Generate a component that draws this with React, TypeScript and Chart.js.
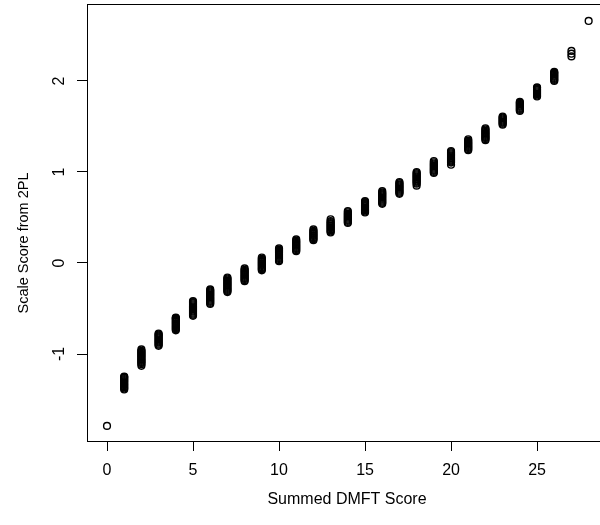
import React, { useEffect, useRef } from "react";
import { Chart, registerables } from "chart.js";

Chart.register(...registerables);

const dmftScores: number[] = [
  0, 1, 2, 3, 4, 5, 6, 7, 8, 9, 10, 11, 12, 13, 14, 15, 16, 17, 18, 19, 20, 21, 22, 23, 24, 25, 26, 27, 28,
];

const scaleScores: number[][] = [
  [-1.79],
  [-1.39, -1.379, -1.367, -1.356, -1.344, -1.333, -1.321, -1.309, -1.298, -1.286, -1.275, -1.263, -1.254, -1.247],
  [-1.13, -1.112, -1.1, -1.089, -1.077, -1.066, -1.054, -1.043, -1.031, -1.02, -1.008, -0.997, -0.985, -0.974, -0.965, -0.95],
  [-0.91, -0.898, -0.887, -0.875, -0.864, -0.852, -0.841, -0.829, -0.818, -0.806, -0.795, -0.784, -0.775],
  [-0.74, -0.729, -0.717, -0.706, -0.694, -0.683, -0.671, -0.66, -0.648, -0.637, -0.625, -0.614, -0.605, -0.6],
  [-0.58, -0.569, -0.557, -0.546, -0.534, -0.523, -0.511, -0.5, -0.488, -0.477, -0.465, -0.454, -0.442, -0.431, -0.42],
  [-0.45, -0.439, -0.427, -0.416, -0.404, -0.393, -0.381, -0.37, -0.358, -0.347, -0.335, -0.324, -0.312, -0.301, -0.29],
  [-0.32, -0.309, -0.297, -0.286, -0.274, -0.263, -0.251, -0.24, -0.228, -0.217, -0.205, -0.194, -0.182, -0.171, -0.16],
  [-0.2, -0.189, -0.177, -0.166, -0.154, -0.143, -0.131, -0.12, -0.108, -0.097, -0.085, -0.074, -0.06],
  [-0.08, -0.069, -0.057, -0.046, -0.034, -0.023, -0.011, 0.0, 0.012, 0.023, 0.035, 0.046, 0.06],
  [0.02, 0.031, 0.043, 0.054, 0.066, 0.077, 0.089, 0.1, 0.112, 0.123, 0.135, 0.146, 0.16],
  [0.13, 0.141, 0.153, 0.164, 0.176, 0.187, 0.199, 0.21, 0.222, 0.233, 0.245, 0.26],
  [0.25, 0.261, 0.273, 0.284, 0.296, 0.307, 0.319, 0.33, 0.342, 0.353, 0.37],
  [0.335, 0.346, 0.358, 0.369, 0.381, 0.392, 0.404, 0.415, 0.427, 0.438, 0.45, 0.461, 0.48],
  [0.44, 0.451, 0.463, 0.474, 0.486, 0.497, 0.509, 0.52, 0.532, 0.543, 0.557, 0.57],
  [0.555, 0.566, 0.578, 0.589, 0.601, 0.612, 0.624, 0.635, 0.647, 0.658, 0.669, 0.68],
  [0.65, 0.661, 0.673, 0.684, 0.696, 0.707, 0.719, 0.73, 0.742, 0.753, 0.765, 0.776, 0.79],
  [0.76, 0.771, 0.783, 0.794, 0.806, 0.817, 0.829, 0.84, 0.852, 0.863, 0.877, 0.89],
  [0.85, 0.872, 0.883, 0.895, 0.906, 0.918, 0.929, 0.941, 0.952, 0.964, 0.975, 0.988, 1.0],
  [0.99, 1.001, 1.013, 1.024, 1.036, 1.047, 1.059, 1.07, 1.082, 1.093, 1.107, 1.12],
  [1.08, 1.103, 1.114, 1.126, 1.137, 1.149, 1.16, 1.172, 1.183, 1.195, 1.206, 1.218, 1.23],
  [1.24, 1.251, 1.263, 1.274, 1.286, 1.297, 1.309, 1.32, 1.332, 1.345, 1.36],
  [1.35, 1.361, 1.373, 1.384, 1.396, 1.407, 1.419, 1.43, 1.442, 1.455, 1.468, 1.48],
  [1.52, 1.531, 1.543, 1.554, 1.566, 1.577, 1.589, 1.6, 1.61],
  [1.67, 1.681, 1.693, 1.704, 1.716, 1.727, 1.739, 1.75, 1.762, 1.77],
  [1.83, 1.841, 1.853, 1.864, 1.876, 1.887, 1.899, 1.91, 1.922, 1.93],
  [2.0, 2.011, 2.023, 2.034, 2.046, 2.057, 2.069, 2.08, 2.092, 2.1],
  [2.27, 2.3, 2.33],
  [2.66],
];

const xTicks: number[] = [0, 5, 10, 15, 20, 25];
const yTicks: number[] = [-1, 0, 1, 2];
const xTitle = "Summed DMFT Score";
const yTitle = "Scale Score from 2PL";

const FAMILY = '"Liberation Sans", Arial, Helvetica, sans-serif';
const FONT = "16px " + FAMILY;
const YTITLE_FONT = "14.5px " + FAMILY;

const textPlugin = {
  id: "rText",
  afterDraw(chart: any) {
    const { ctx, chartArea, scales } = chart;
    const xs = scales.x;
    const ys = scales.y;
    ctx.save();
    ctx.strokeStyle = "#000";
    ctx.lineWidth = 1;
    ctx.beginPath();
    ctx.moveTo(Math.round(chartArea.left) + 0.5, Math.round(chartArea.top) + 0.5);
    ctx.lineTo(Math.round(chartArea.right) + 0.5, Math.round(chartArea.top) + 0.5);
    ctx.stroke();
    ctx.fillStyle = "#000";
    ctx.font = FONT;
    ctx.textAlign = "center";
    ctx.textBaseline = "middle";
    xTicks.forEach((v) => {
      ctx.fillText(String(v), xs.getPixelForValue(v), 471);
    });
    ctx.fillText(xTitle, 347, 500);
    yTicks.forEach((v) => {
      ctx.save();
      ctx.translate(60, ys.getPixelForValue(v));
      ctx.rotate(-Math.PI / 2);
      ctx.fillText(String(v), 0, 0);
      ctx.restore();
    });
    ctx.save();
    ctx.font = YTITLE_FONT;
    ctx.translate(24, 243);
    ctx.rotate(-Math.PI / 2);
    ctx.fillText(yTitle, 0, 0);
    ctx.restore();
    ctx.restore();
  },
};

export default function App() {
  const ref = useRef<HTMLCanvasElement | null>(null);
  useEffect(() => {
    document.body.style.margin = "0";
    const points = dmftScores.flatMap((x, i) => scaleScores[i].map((y) => ({ x, y })));
    const chart = new Chart(ref.current as HTMLCanvasElement, {
      type: "scatter",
      data: {
        datasets: [
          {
            data: points,
            pointStyle: "circle",
            pointRadius: 3.4,
            pointBorderWidth: 1.4,
            pointBorderColor: "#000",
            pointBackgroundColor: "rgba(0,0,0,0)",
            pointHoverRadius: 3.4,
          },
        ],
      },
      options: {
        responsive: false,
        animation: false,
        events: [],
        layout: { autoPadding: false, padding: { top: 4, right: 0, left: 0, bottom: 0 } },
        plugins: { legend: { display: false }, tooltip: { enabled: false } },
        scales: {
          x: {
            type: "linear",
            min: -1.163,
            max: 28.66,
            afterBuildTicks: (s: any) => {
              s.ticks = xTicks.map((v) => ({ value: v }));
            },
            afterFit: (s: any) => {
              s.height = 84;
            },
            ticks: { display: false },
            grid: { drawOnChartArea: false, drawTicks: true, tickLength: 10, color: "#000", lineWidth: 1 },
            border: { display: true, color: "#000", width: 1 },
          },
          y: {
            type: "linear",
            min: -1.956,
            max: 2.846,
            afterBuildTicks: (s: any) => {
              s.ticks = yTicks.map((v) => ({ value: v }));
            },
            afterFit: (s: any) => {
              s.width = 87;
            },
            ticks: { display: false },
            grid: { drawOnChartArea: false, drawTicks: true, tickLength: 10, color: "#000", lineWidth: 1 },
            border: { display: true, color: "#000", width: 1 },
          },
        },
      },
      plugins: [textPlugin],
    } as any);
    return () => chart.destroy();
  }, []);
  return (
    <div style={{ width: 600, height: 525, background: "#fff" }}>
      <canvas ref={ref} width={600} height={525} style={{ display: "block" }} />
    </div>
  );
}
